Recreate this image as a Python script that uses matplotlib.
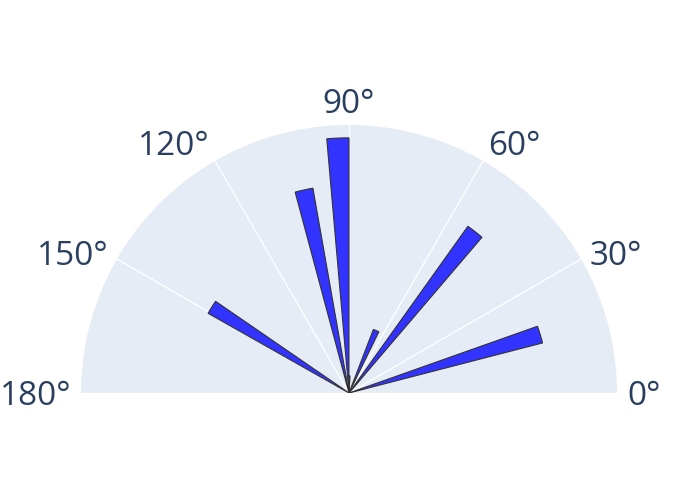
import numpy as np
import matplotlib.pyplot as plt

# bar data (angles in degrees)
theta_deg = [17, 52, 66.5, 88, 92.5, 102.5, 148]
radius = [3.73, 3.82, 1.27, 0.32, 4.76, 3.88, 3.02]
width_deg = [5, 5, 5, 3, 5, 5, 5]
tick_deg = [0, 30, 60, 90, 120, 150, 180]
tick_labels = ["0°", "30°", "60°", "90°", "120°", "150°", "180°"]
r_max = 5

plt.rcParams['font.family'] = ['Open Sans', 'DejaVu Sans']
plt.rcParams['axes.edgecolor'] = 'none'
plt.rcParams['axes.linewidth'] = 0

fig = plt.figure(figsize=(7, 5), dpi=100)
# half polar gets fitted into half the box, so the box is made twice as big
ax = fig.add_axes([-187/700, -27/500, 1072/700, 536/500], projection='polar')
ax.set_thetamin(0)
ax.set_thetamax(180)
ax.set_facecolor('#E5ECF6')

ax.bar(np.deg2rad(theta_deg), radius, width=np.deg2rad(width_deg),
       color='#3333FF', edgecolor='#333333', linewidth=0.8, zorder=3)

ax.set_ylim(0, r_max)
ax.set_yticks([])
ax.set_thetagrids(tick_deg, [""] * len(tick_deg))
ax.tick_params(axis='both', length=0, width=0)
ax.xaxis.grid(True, color='white', linewidth=1)
ax.yaxis.grid(False)
for s in ax.spines.values():
    s.set_visible(False)

# angular labels, anchored on the edge nearest the circle (plotly style)
for a, lab in zip(tick_deg, tick_labels):
    c, s = np.cos(np.deg2rad(a)), np.sin(np.deg2rad(a))
    ha = 'left' if c > 0.1 else ('right' if c < -0.1 else 'center')
    dx = 10 * c
    dy = 24 * s ** 2 - 12
    ax.annotate(lab, xy=(np.deg2rad(a), r_max), xytext=(dx, dy),
                textcoords='offset pixels', ha=ha, va='baseline',
                fontsize=24, color='#2a3f5f', annotation_clip=False)

fig.savefig('out.png', dpi=100)
